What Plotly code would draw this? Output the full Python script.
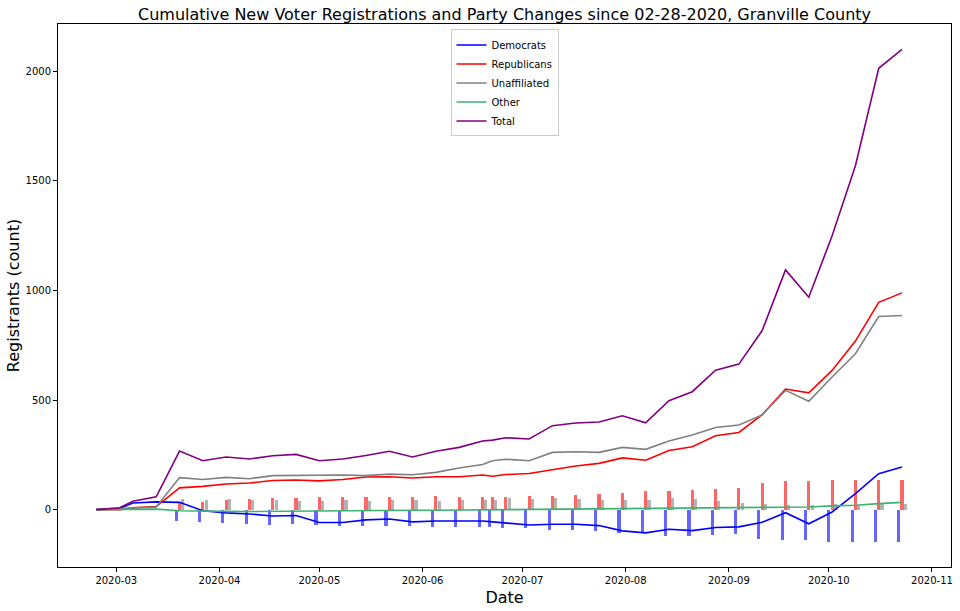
import pandas as pd
import plotly.graph_objects as go

# ---------------- data ----------------
dates = ["2020-02-24", "2020-03-02", "2020-03-06", "2020-03-13", "2020-03-20", "2020-03-27",
         "2020-04-03", "2020-04-10", "2020-04-17", "2020-04-24", "2020-05-01", "2020-05-08",
         "2020-05-15", "2020-05-22", "2020-05-29", "2020-06-05", "2020-06-12", "2020-06-19",
         "2020-06-22", "2020-06-26", "2020-07-03", "2020-07-10", "2020-07-17", "2020-07-24",
         "2020-07-31", "2020-08-07", "2020-08-14", "2020-08-21", "2020-08-28", "2020-09-04",
         "2020-09-11", "2020-09-18", "2020-09-25", "2020-10-02", "2020-10-09", "2020-10-16",
         "2020-10-23"]

democrats = [0, 5, 30, 35, 33, -5, -15, -20, -29, -27, -59, -59, -47, -43, -56, -52, -52, -52,
             -56, -60, -70, -67, -67, -73, -97, -106, -90, -96, -82, -79, -58, -14, -65, -11,
             73, 164, 194]
republicans = [0, 0, 8, 14, 99, 106, 117, 121, 133, 135, 131, 137, 149, 150, 144, 150, 150, 158,
               152, 160, 165, 183, 199, 211, 236, 225, 270, 287, 337, 352, 433, 550, 533, 635,
               769, 946, 989]
unaffiliated = [0, 5, 8, 12, 146, 137, 147, 141, 155, 156, 158, 158, 155, 162, 159, 170, 190, 206,
                223, 230, 223, 261, 264, 261, 284, 275, 313, 340, 375, 386, 432, 544, 494, 605,
                711, 881, 886]
other = [0, 2, 3, 2, -5, -8, -8, -9, -8, -6, -4, -4, -3, -3, -3, -3, -2, -1, 0, 0, 2, 3, 4, 5,
         5, 6, 6, 7, 8, 9, 11, 12, 12, 17, 20, 27, 33]
total = [0, 8, 38, 58, 267, 223, 240, 231, 246, 252, 223, 231, 247, 266, 240, 266, 284, 313, 317,
         328, 322, 383, 395, 400, 428, 396, 497, 538, 636, 664, 817, 1094, 969, 1250, 1569, 2014,
         2100]

# party changes (bars)
change_dates = dates[4:]
dem_changes = [-53, -58, -62, -67, -71, -67, -70, -75, -75, -74, -74, -79, -79, -79, -79, -83,
               -84, -93, -93, -98, -107, -107, -120, -121, -117, -113, -132, -140, -140, -149,
               -149, -149, -149]
rep_changes = [29, 33, 43, 47, 52, 52, 56, 56, 56, 56, 56, 61, 56, 56, 56, 56, 60, 62, 66, 72,
               78, 83, 85, 90, 94, 99, 122, 132, 132, 136, 136, 136, 136]
una_changes = [47, 43, 47, 43, 43, 38, 38, 43, 38, 43, 43, 38, 43, 43, 43, 52, 47, 51, 47, 42,
               42, 42, 51, 47, 37, 31, 27, 22, 22, 27, 22, 27, 27]

month_ticks = ["2020-03-01", "2020-04-01", "2020-05-01", "2020-06-01", "2020-07-01",
               "2020-08-01", "2020-09-01", "2020-10-01", "2020-11-01"]

# ---------------- figure ----------------
dt = pd.to_datetime(dates)
cdt = pd.to_datetime(change_dates)
day = pd.Timedelta(days=1)
bar_w = 0.95 * 86400000

fig = go.Figure()
fig.add_trace(go.Bar(x=cdt - day, y=dem_changes, width=bar_w, marker_color="rgba(0,0,255,0.6)",
                     marker_line_width=0, showlegend=False))
fig.add_trace(go.Bar(x=cdt, y=rep_changes, width=bar_w, marker_color="rgba(255,0,0,0.6)",
                     marker_line_width=0, showlegend=False))
fig.add_trace(go.Bar(x=cdt + day, y=una_changes, width=bar_w, marker_color="rgba(128,128,128,0.6)",
                     marker_line_width=0, showlegend=False))

lines = [("Democrats", democrats, "blue"), ("Republicans", republicans, "red"),
         ("Unaffiliated", unaffiliated, "gray"), ("Other", other, "mediumseagreen"),
         ("Total", total, "purple")]
for name, vals, col in lines:
    fig.add_trace(go.Scatter(x=dt, y=vals, mode="lines", name=name,
                             line=dict(color=col, width=1.6)))

axis_common = dict(showline=True, linecolor="black", linewidth=1, mirror=True,
                   ticks="outside", ticklen=4, tickcolor="black", showgrid=False,
                   zeroline=False, tickfont=dict(size=10, color="black"),
                   automargin=False, ticklabeloverflow="allow")

fig.update_layout(
    width=960, height=611,
    paper_bgcolor="white", plot_bgcolor="white",
    font=dict(family="DejaVu Sans", color="black"),
    barmode="overlay", bargap=0,
    margin=dict(l=58, r=9, t=24, b=44),
    title=dict(text="Cumulative New Voter Registrations and Party Changes since 02-28-2020, Granville County",
               x=0.5, xref="paper", xanchor="center", y=1 - 14.5 / 611, yref="container",
               yanchor="middle", font=dict(size=16, color="black")),
    xaxis=dict(axis_common, type="date", range=["2020-02-12 12:00", "2020-11-06 17:00"],
               tickvals=month_ticks, tickformat="%Y-%m",
               title=dict(text="Date", font=dict(size=16), standoff=6)),
    yaxis=dict(axis_common, range=[-262, 2216], tickvals=[0, 500, 1000, 1500, 2000],
               title=dict(text="Registrants (count)", font=dict(size=16), standoff=1)),
    legend=dict(x=0.5, xanchor="center", y=0.99, yanchor="top", bgcolor="rgba(255,255,255,0.8)",
                bordercolor="#cccccc", borderwidth=1, font=dict(size=10),
                tracegroupgap=0, itemwidth=30),
)

fig.write_html("out.html", config={"displayModeBar": False},
               post_script="document.body.style.margin='0';document.body.style.overflow='hidden';")
